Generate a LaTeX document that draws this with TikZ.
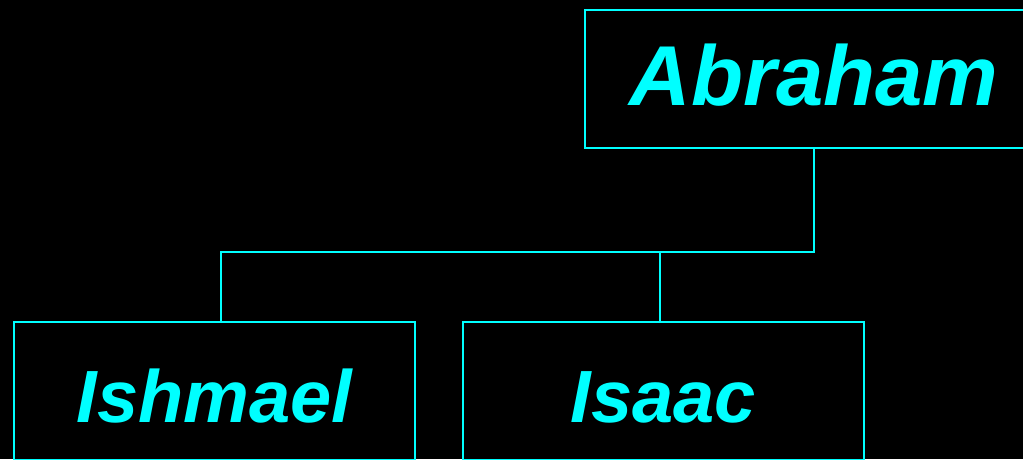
\documentclass[tikz,border=0pt]{standalone}
\usepackage{fontspec}
\setmainfont{Liberation Sans}
\definecolor{kin}{RGB}{0,255,255}

\begin{document}
\begin{tikzpicture}[x=1pt, y=-1pt,
        person/.style={draw=kin, line width=2.7pt, text=kin, minimum width=401pt, minimum height=138pt, inner sep=0pt, font=\bfseries\itshape\fontsize{74}{74}\selectfont, text height=64pt, text depth=2pt},
        link/.style={draw=kin, line width=2.7pt}]
    \useasboundingbox (0, 0) rectangle (1023, 459);
    \clip (0, 0) rectangle (1023, 459);
    \fill[black] (0, 0) rectangle (1023, 459);

    \node (abraham) [person, minimum width=458pt, font=\bfseries\itshape\fontsize{85}{85}\selectfont, text height=62pt, text depth=10pt] at (814, 79) {Abraham};
    \node (ishmael) [person] at (214.5, 391) {Ishmael};
    \node (isaac) [person] at (663.5, 391) {Isaac};

    \coordinate (bar) at (814, 252);
    \draw[link] (abraham.south) -- (bar) -| ([xshift=6.5pt]ishmael.north);
    \draw[link] ([xshift=-3.5pt]isaac.north) |- (bar);
\end{tikzpicture}
\end{document}
